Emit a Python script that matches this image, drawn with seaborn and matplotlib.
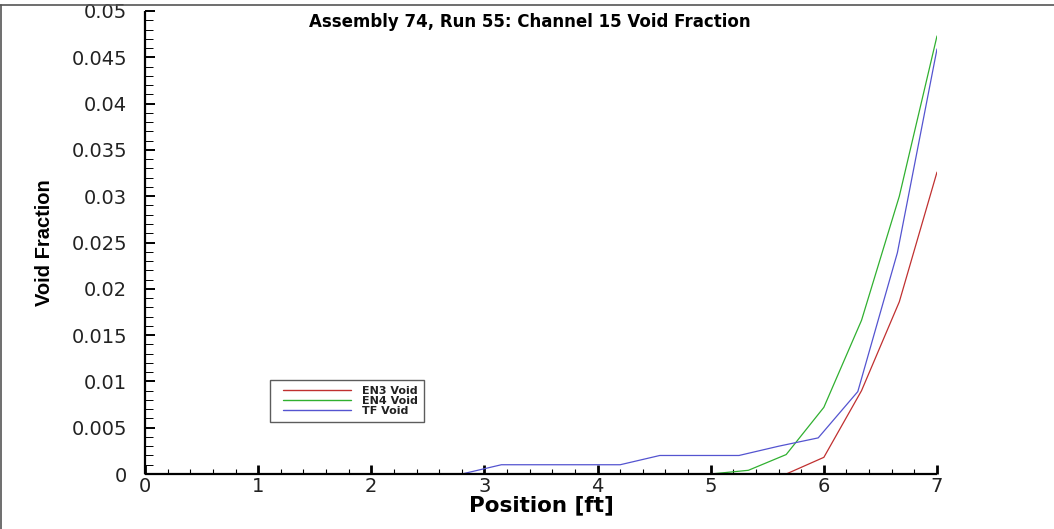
import numpy as np
import pandas as pd
import matplotlib
matplotlib.use("Agg")
import matplotlib.pyplot as plt
import seaborn as sns
from matplotlib.ticker import FixedLocator, MultipleLocator
from matplotlib.lines import Line2D
from matplotlib.legend_handler import HandlerLine2D

# ---- data ----
title = "Assembly 74, Run 55: Channel 15 Void Fraction"
x_label = "Position [ft]"
y_label = "Void Fraction"

# TF Void (grid of 0.35 ft)
tf_pos = [0.0, 0.35, 0.7, 1.05, 1.4, 1.75, 2.1, 2.45, 2.8, 3.15, 3.5, 3.85,
          4.2, 4.55, 4.9, 5.25, 5.6, 5.95, 6.3, 6.65, 7.0]
tf_void = [0.0, 0.0, 0.0, 0.0, 0.0, 0.0, 0.0, 0.0, 0.0, 0.001, 0.001, 0.001,
           0.001, 0.002, 0.002, 0.002, 0.003, 0.0039, 0.0089, 0.0239, 0.0459]

# EN3 / EN4 Void (grid of 1/3 ft)
en_pos = [0.0, 0.333, 0.667, 1.0, 1.333, 1.667, 2.0, 2.333, 2.667, 3.0, 3.333,
          3.667, 4.0, 4.333, 4.667, 5.0, 5.333, 5.667, 6.0, 6.333, 6.667, 7.0]
en3_void = [0.0, 0.0, 0.0, 0.0, 0.0, 0.0, 0.0, 0.0, 0.0, 0.0, 0.0,
            0.0, 0.0, 0.0, 0.0, 0.0, 0.0, 0.0, 0.0018, 0.0090, 0.0186, 0.0326]
en4_void = [0.0, 0.0, 0.0, 0.0, 0.0, 0.0, 0.0, 0.0, 0.0, 0.0, 0.0,
            0.0, 0.0, 0.0, 0.0, 0.0, 0.0004, 0.0021, 0.0072, 0.0166, 0.0300, 0.0473]

series_names = ["EN3 Void", "EN4 Void", "TF Void"]
series_colors = ["#c03030", "#30b030", "#5454d0"]

x_ticks = [0, 1, 2, 3, 4, 5, 6, 7]
y_ticks = [0, 0.005, 0.01, 0.015, 0.02, 0.025, 0.03, 0.035, 0.04, 0.045, 0.05]
y_tick_labels = ["0", "0.005", "0.01", "0.015", "0.02", "0.025", "0.03",
                 "0.035", "0.04", "0.045", "0.05"]

df = pd.concat([
    pd.DataFrame({"pos": en_pos, "void": en3_void, "series": series_names[0]}),
    pd.DataFrame({"pos": en_pos, "void": en4_void, "series": series_names[1]}),
    pd.DataFrame({"pos": tf_pos, "void": tf_void, "series": series_names[2]}),
], ignore_index=True)

# ---- style ----
sns.set_style("ticks")
plt.rcParams["font.family"] = ["DejaVu Sans"]

fig = plt.figure(figsize=(10.54, 5.29), dpi=100)
fig.patch.set_facecolor("white")
ax = fig.add_axes([145 / 1054, 55 / 529, 792 / 1054, 463 / 529])

sns.lineplot(data=df, x="pos", y="void", hue="series", hue_order=series_names,
             palette=dict(zip(series_names, series_colors)), sort=False,
             estimator=None, linewidth=0.9, ax=ax, legend=True)

ax.set_xlim(0, 7)
ax.set_ylim(0, 0.05)
for s in ["top", "right"]:
    ax.spines[s].set_visible(False)
for s in ["left", "bottom"]:
    ax.spines[s].set_linewidth(1.6)
    ax.spines[s].set_color("black")
    ax.spines[s].set_capstyle("butt")

ax.xaxis.set_major_locator(FixedLocator(x_ticks))
ax.set_xticklabels([str(v) for v in x_ticks])
ax.xaxis.set_minor_locator(MultipleLocator(0.2))
ax.yaxis.set_major_locator(FixedLocator(y_ticks))
ax.set_yticklabels(y_tick_labels)
ax.yaxis.set_minor_locator(MultipleLocator(0.001))

ax.tick_params(axis="x", which="major", direction="in", length=6.5, width=2.0,
               labelsize=14, pad=2, color="black")
ax.tick_params(axis="x", which="minor", direction="in", length=3.8, width=0.8,
               color="black")
ax.tick_params(axis="y", which="major", direction="in", length=7.5, width=1.4,
               labelsize=14, pad=13, color="black")
ax.tick_params(axis="y", which="minor", direction="in", length=6, width=0.7,
               color="black")
for lab in ax.get_xticklabels() + ax.get_yticklabels():
    lab.set_color("#222222")

ax.set_xlabel(x_label, fontsize=15.5, fontweight="bold", labelpad=0, color="black")
ax.xaxis.set_label_coords(0.5, -0.047)
ax.set_ylabel("")
fig.text(45 / 1054, 1 - 243 / 529, y_label, rotation=90, ha="center", va="center",
         fontsize=14.5, fontweight="bold", color="black",
         family=["Liberation Sans", "DejaVu Sans"])

fig.text(530 / 1054, 1 - 22 / 529, title, ha="center", va="center",
         fontsize=12, fontweight="bold", color="black")

leg = ax.legend(loc="lower left", bbox_to_anchor=(125 / 792, 52 / 463),
                borderaxespad=0, frameon=True, fancybox=False,
                prop={"size": 8, "weight": "bold"}, labelspacing=0.0,
                handlelength=6.7, handletextpad=1.05, borderpad=0.55,
                handler_map={Line2D: HandlerLine2D(xpad=0.6)})
leg.get_frame().set_edgecolor("#333333")
leg.get_frame().set_linewidth(1.0)
for t in leg.get_texts():
    t.set_color("#222222")
for h in leg.get_lines():
    h.set_linewidth(1.0)

# thin figure border (top and left)
fig.add_artist(Line2D([0, 1], [1 - 5 / 529, 1 - 5 / 529], transform=fig.transFigure,
                      color="#555555", linewidth=1.2))
fig.add_artist(Line2D([1 / 1054, 1 / 1054], [0, 1 - 5 / 529], transform=fig.transFigure,
                      color="#555555", linewidth=1.2))

fig.savefig("out.png", dpi=100, facecolor="white")
